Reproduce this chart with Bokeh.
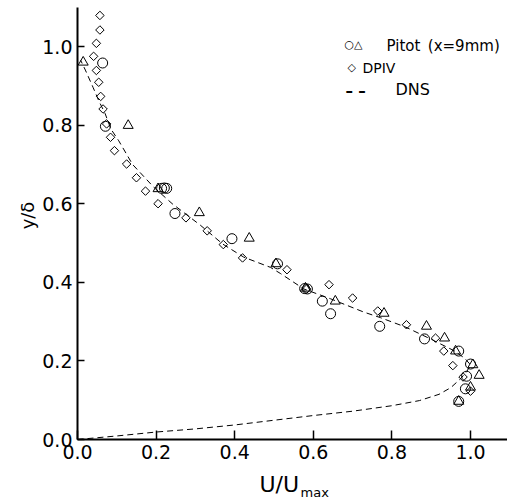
from bokeh.plotting import figure
from bokeh.models import Range1d, FixedTicker, PrintfTickFormatter, Label
from bokeh.embed import file_html
from bokeh.resources import INLINE
import math

# Pitot (circles)
pit_c_u = [0.064, 0.071, 0.214, 0.221, 0.227, 0.248, 0.393, 0.509, 0.578, 0.585,
           0.623, 0.644, 0.769, 0.883, 0.970, 1.000, 0.990, 0.987, 0.970]
pit_c_v = [0.958, 0.797, 0.639, 0.640, 0.639, 0.575, 0.511, 0.447, 0.384, 0.383,
           0.352, 0.320, 0.288, 0.256, 0.225, 0.192, 0.161, 0.129, 0.097]
# Pitot (triangles)
pit_t_u = [0.0145, 0.129, 0.205, 0.310, 0.437, 0.505, 0.580, 0.656, 0.780, 0.888,
           0.934, 0.962, 1.006, 1.022, 1.000, 0.970]
pit_t_v = [0.960, 0.799, 0.638, 0.577, 0.512, 0.447, 0.385, 0.352, 0.321, 0.288,
           0.258, 0.225, 0.190, 0.163, 0.133, 0.097]
# DPIV (diamonds)
dpiv_u = [0.057, 0.057, 0.048, 0.041, 0.048, 0.054, 0.059, 0.065, 0.074, 0.084,
          0.094, 0.125, 0.150, 0.173, 0.205, 0.276, 0.330, 0.371, 0.420, 0.533,
          0.583, 0.640, 0.700, 0.764, 0.837, 0.911, 0.932, 0.955, 0.981, 1.000]
dpiv_v = [1.079, 1.042, 1.008, 0.975, 0.939, 0.909, 0.873, 0.841, 0.803, 0.769,
          0.735, 0.701, 0.666, 0.632, 0.600, 0.564, 0.531, 0.496, 0.462, 0.432,
          0.383, 0.394, 0.360, 0.327, 0.292, 0.258, 0.225, 0.188, 0.159, 0.123]
# DNS profile
dns_u = [0.00, 0.10, 0.20, 0.30, 0.40, 0.50, 0.60, 0.70, 0.80, 0.87, 0.92, 0.95,
         0.975, 0.99, 1.00, 0.985, 0.958, 0.898, 0.835, 0.771, 0.729, 0.644, 0.576,
         0.517, 0.491, 0.423, 0.370, 0.313, 0.241, 0.194, 0.140, 0.105, 0.085,
         0.070, 0.055, 0.040, 0.020, 0.008]
dns_v = [0.000, 0.009, 0.019, 0.027, 0.037, 0.049, 0.061, 0.072, 0.086, 0.099, 0.115, 0.132,
         0.155, 0.172, 0.190, 0.207, 0.226, 0.256, 0.286, 0.310, 0.324, 0.358, 0.383,
         0.422, 0.438, 0.464, 0.497, 0.545, 0.600, 0.642, 0.700, 0.760, 0.790,
         0.830, 0.860, 0.895, 0.940, 0.965]

ticks = [0.0, 0.2, 0.4, 0.6, 0.8, 1.0]

FONT = "DejaVu Sans"

# pixel layout of the frame (whole canvas); origin of data at page (77, 439)
X0, Y0, S = 77.0, 439.0, 393.0
W, H = 507, 500

p = figure(width=W, height=H, output_backend="svg", toolbar_location=None,
           x_range=Range1d(-X0 / S, (W - X0) / S),
           y_range=Range1d(-(H - Y0) / S, Y0 / S),
           min_border_left=0, min_border_right=0, min_border_top=0, min_border_bottom=0)
p.outline_line_color = None
p.grid.visible = False
p.background_fill_color = "white"

p.line(dns_u, dns_v, line_color="black", line_width=1, line_dash="6 4")
p.scatter(pit_c_u, pit_c_v, marker="circle", size=10, fill_alpha=0,
          line_color="black", line_width=1)
p.scatter(pit_t_u, pit_t_v, marker="triangle", size=10, fill_alpha=0,
          line_color="black", line_width=1)
p.scatter(dpiv_u, dpiv_v, marker="square", angle=math.pi / 4, size=6, fill_alpha=0,
          line_color="black", line_width=1)

for ax in (p.xaxis[0], p.yaxis[0]):
    ax.fixed_location = 0
    ax.ticker = FixedTicker(ticks=ticks)
    ax.formatter = PrintfTickFormatter(format="%.1f")
    ax.minor_tick_line_color = None
    ax.major_tick_out = 0
    ax.axis_line_width = 2
    ax.axis_line_color = "black"
    ax.major_tick_line_width = 1.5
    ax.major_tick_line_color = "black"
    ax.major_label_text_font = FONT
    ax.major_label_text_font_size = "19px"
    ax.major_label_text_color = "black"
    ax.major_label_standoff = 5

p.xaxis[0].bounds = (0, (W - X0) / S)
p.yaxis[0].bounds = (0, 1.1)
p.xaxis[0].major_tick_in = 9
p.yaxis[0].major_tick_in = 7


def px2x(px):
    return (px - X0) / S


def py2y(py):
    return (Y0 - py) / S


def lab(x, y, t, size, align="left", angle=0.0, style="normal"):
    p.add_layout(Label(x=px2x(x), y=py2y(y), text=t, angle=angle,
                       text_font=FONT, text_font_size=size, text_color="black",
                       text_font_style=style,
                       text_baseline="middle", text_align=align))

# axis titles
lab(259, 484, "U/U", "22px")
lab(300, 492, "max", "13px")
lab(27, 215, "y/\u03b4", "18px", "center", math.pi / 2)

# legend drawn as text
lab(344, 44, "\u25cb\u25b3", "11px", style="bold")
lab(386, 45, "Pitot\u2002(x=9mm)", "15px")
lab(347, 67, "\u25c7", "11px", style="bold")
lab(362, 67, "DPIV", "14px")
lab(345, 90, "\u2013  \u2013", "15px", style="bold")
lab(395, 89, "DNS", "16px")

open("out.html", "w").write(file_html(p, INLINE))
